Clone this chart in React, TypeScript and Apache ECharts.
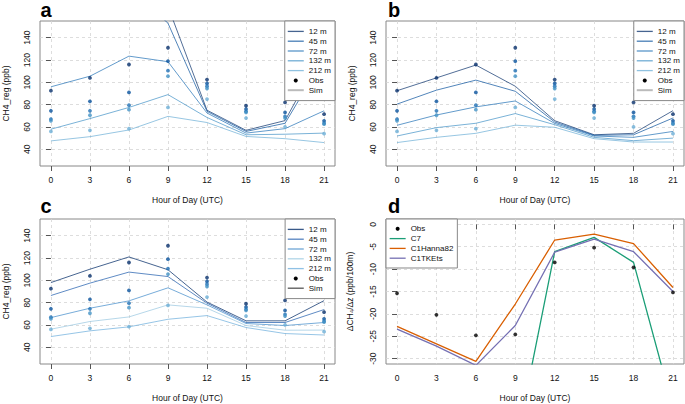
import React, { useEffect, useRef } from "react";
import * as echarts from "echarts";

// ---------- data ----------
const hours = [0, 3, 6, 9, 12, 15, 18, 21];
const heightLabels = ["12 m", "45 m", "72 m", "132 m", "212 m"];
const ch4Ticks = [40, 60, 80, 100, 120, 140];
const gradTicks = [-30, -25, -20, -15, -10, -5, 0];

// observations (same in panels a, b, c)
const obs12 = [92.5, 104, 116, 131, 102.5, 79, 82, 71.5];
const obs45 = [74.5, 83, 91, 119, 99, 76, 73, 65.5];
const obs72 = [67, 74.5, 79.5, 110.5, 96.5, 74, 69.5, 63.5];
const obs132 = [65.5, 70.5, 75.5, 105.5, 94.5, 73, 68, 62.5];
const obs212 = [56, 57, 58.5, 77.5, 85, 68, 60, 54];

// panel a simulations
const simA12 = [175, 185, 200, 168, 75, 57, 65.7, 130];
const simA45 = [165, 175, 185, 153, 74, 56, 63.3, 122];
const simA72 = [96, 105.5, 123.5, 118.5, 72.5, 54.5, 58.5, 74.5];
const simA132 = [58, 67.5, 77.5, 89, 68.5, 53, 53.5, 54.5];
const simA212 = [47.5, 51.3, 57.3, 69.5, 64, 51.5, 49.5, 46];

// panel b simulations
const simB12 = [92.5, 104, 115.5, 96.5, 65.6, 53, 54.3, 74.6];
const simB45 = [80.5, 93, 102, 92, 64.4, 52.5, 53, 68];
const simB72 = [61.5, 70.7, 78, 83.3, 63.2, 51.9, 50.7, 56];
const simB132 = [51.9, 59.4, 63.3, 72, 62, 50.7, 47.7, 50];
const simB212 = [46, 50.7, 54.3, 61.6, 59.7, 49.5, 46.5, 46.5];

// panel c simulations
const simC12 = [98, 110, 121, 109.5, 80.5, 63.7, 63.7, 81.8];
const simC45 = [86.4, 97.5, 107.4, 103.4, 79.5, 62.2, 62.2, 73.8];
const simC72 = [66.6, 75, 81.6, 93.3, 78, 61.3, 59.5, 62.2];
const simC132 = [56.2, 63.1, 67.2, 78, 75, 59.5, 55.3, 55.4];
const simC212 = [49.6, 54.7, 58.3, 65.1, 68.4, 57.7, 52.3, 51];

// panel d vertical gradients
const gradObs = [-15.4, -20.2, -24.8, -24.6, -8.5, -5.2, -9.6, -15.2];
const gradC7 = [-45, -48, -52, -50, -6.1, -2.9, -8.5, -41];
const gradHanna = [-22.8, -26.7, -30.6, -17.8, -3.5, -2.2, -4.3, -14.1];
const gradTKE = [-23.4, -27.2, -31.5, -22.6, -6.2, -3.3, -6.1, -15];

const obsAll = [obs12, obs45, obs72, obs132, obs212];
const simAAll = [simA12, simA45, simA72, simA132, simA212];
const simBAll = [simB12, simB45, simB72, simB132, simB212];
const simCAll = [simC12, simC45, simC72, simC132, simC212];

const obsColors = ["#08306b", "#08519c", "#2171b5", "#4292c6", "#6baed6"];
const lineColorsAB = ["#08306b", "#08519c", "#2171b5", "#4292c6", "#6baed6"];
const lineColorsC = ["#08306b", "#2a64b0", "#4a90cc", "#9ecae1", "#73b2de"];

const FONT = "Liberation Sans, Arial, sans-serif";

const grids = [
  { left: 37, top: 21, width: 298, height: 145 },
  { left: 386, top: 21, width: 298, height: 145 },
  { left: 37, top: 219, width: 298, height: 145 },
  { left: 386, top: 219, width: 298, height: 145 },
];

function pairs(vals: number[]) {
  return hours.map((h, k) => [h, vals[k]]);
}

function buildOption() {
  const series: any[] = [];
  const panels = [
    { sims: simAAll, colors: lineColorsAB, op: 0.7 },
    { sims: simBAll, colors: lineColorsAB, op: 0.7 },
    { sims: simCAll, colors: lineColorsC, op: 0.75 },
  ];
  panels.forEach((p, pi) => {
    p.sims.forEach((vals, i) => {
      series.push({
        type: "line",
        name: heightLabels[i],
        xAxisIndex: pi,
        yAxisIndex: pi,
        data: pairs(vals),
        symbol: "none",
        clip: true,
        z: 2,
        lineStyle: { color: p.colors[i], width: 1, opacity: p.op },
        itemStyle: { color: p.colors[i] },
      });
    });
    obsAll.forEach((vals, i) => {
      series.push({
        type: "scatter",
        name: "obs " + heightLabels[i] + " " + pi,
        xAxisIndex: pi,
        yAxisIndex: pi,
        data: pairs(vals),
        symbol: "circle",
        symbolSize: 3.8,
        z: 3,
        itemStyle: { color: obsColors[i] },
      });
    });
  });
  // legend-only entries
  series.push({
    type: "scatter",
    name: "Obs",
    xAxisIndex: 0,
    yAxisIndex: 0,
    data: [],
    itemStyle: { color: "#000" },
  });
  series.push({
    type: "line",
    name: "Sim",
    xAxisIndex: 0,
    yAxisIndex: 0,
    data: [],
    symbol: "none",
    lineStyle: { color: "#bbb", width: 2 },
    itemStyle: { color: "#bbb" },
  });
  // panel d
  series.push({
    type: "scatter",
    name: "Obs d",
    xAxisIndex: 3,
    yAxisIndex: 3,
    data: pairs(gradObs),
    symbolSize: 3.8,
    z: 3,
    itemStyle: { color: "#000" },
  });
  const dLines = [
    { name: "C7", vals: gradC7, color: "#1b9e77" },
    { name: "C1Hanna82", vals: gradHanna, color: "#d95f02" },
    { name: "C1TKEts", vals: gradTKE, color: "#7570b3" },
  ];
  dLines.forEach((l) => {
    series.push({
      type: "line",
      name: l.name,
      xAxisIndex: 3,
      yAxisIndex: 3,
      data: pairs(l.vals),
      symbol: "none",
      clip: true,
      z: 2,
      lineStyle: { color: l.color, width: 1.3 },
      itemStyle: { color: l.color },
    });
  });

  const xAxis = grids.map((_, i) => ({
    type: "value",
    gridIndex: i,
    min: -0.84,
    max: 21.84,
    axisLine: { show: false },
    axisTick: {
      show: true,
      customValues: hours,
      length: 5,
      lineStyle: { color: "#555", width: 1 },
    },
    axisLabel: {
      customValues: hours,
      fontSize: 8.5,
      color: "#111",
      fontFamily: FONT,
      margin: 9,
    },
    splitLine: {
      show: true,
      lineStyle: { color: "#d4d4d4", type: [3, 3], width: 0.8 },
    },
    name: "Hour of Day (UTC)",
    nameLocation: "middle",
    nameGap: 29,
    nameTextStyle: { fontSize: 8.5, color: "#111", fontFamily: FONT },
  }));

  const yAxis = grids.map((_, i) => {
    const isD = i === 3;
    return {
      type: "value",
      gridIndex: i,
      min: isD ? -31.2 : 25,
      max: isD ? 1.2 : 155,
      axisLine: { show: false },
      axisTick: {
        show: true,
        customValues: isD ? gradTicks : ch4Ticks,
        length: 5,
        lineStyle: { color: "#555", width: 1 },
      },
      axisLabel: {
        customValues: isD ? gradTicks : ch4Ticks,
        rotate: 90,
        fontSize: 8.5,
        color: "#111",
        fontFamily: FONT,
        margin: 9,
      },
      splitLine: {
        show: true,
        lineStyle: { color: "#d4d4d4", type: [3, 3], width: 0.8 },
      },
      name: isD ? "ΔCH₄/Δz (ppb/100m)" : "CH4_reg (ppb)",
      nameLocation: "middle",
      nameRotate: 90,
      nameGap: isD ? 32 : 30,
      nameTextStyle: { fontSize: 8.5, color: "#111", fontFamily: FONT },
    };
  });

  const heightLegendItems = (colors: string[], op: number) =>
    heightLabels.map((h, i) => ({
      name: h,
      lineStyle: { color: colors[i], width: 1.3, opacity: op },
    }));

  const legendBase = {
    orient: "vertical",
    padding: [5.5, 4, 5.5, 2],
    itemWidth: 16,
    itemHeight: 4,
    itemGap: 0,
    itemTextGap: 6,
    backgroundColor: "#fff",
    borderColor: "#888",
    borderWidth: 1,
    borderRadius: 0,
    selectedMode: false,
    itemStyle: { opacity: 0 },
    textStyle: { fontSize: 8, lineHeight: 9.8, color: "#111", fontFamily: FONT },
  };

  const obsItem = { name: "Obs", icon: "circle", itemStyle: { opacity: 1, color: "#000" } };

  const legend = [
    {
      ...legendBase,
      right: 685 - 335,
      top: 21,
      data: [
        ...heightLegendItems(lineColorsAB, 0.75),
        obsItem,
        { name: "Sim", lineStyle: { color: "#bbb", width: 2 } },
      ],
    },
    {
      ...legendBase,
      right: 1,
      top: 21,
      data: [
        ...heightLegendItems(lineColorsAB, 0.75),
        obsItem,
        { name: "Sim", lineStyle: { color: "#bbb", width: 2 } },
      ],
    },
    {
      ...legendBase,
      right: 685 - 335,
      top: 219,
      data: [
        ...heightLegendItems(lineColorsC, 0.8),
        obsItem,
        { name: "Sim", lineStyle: { color: "#555", width: 1.3 } },
      ],
    },
    {
      ...legendBase,
      left: 386,
      top: 219,
      padding: [4.9, 4, 4.9, 3],
      itemTextGap: 5,
      data: [
        obsItem,
        { name: "C7", lineStyle: { color: "#1b9e77", width: 1.3 } },
        { name: "C1Hanna82", lineStyle: { color: "#d95f02", width: 1.3 } },
        { name: "C1TKEts", lineStyle: { color: "#7570b3", width: 1.3 } },
      ],
    },
  ];

  const panelLetters = [
    { t: "a", x: 40.5, y: 0 },
    { t: "b", x: 388, y: 0 },
    { t: "c", x: 40.5, y: 195.5 },
    { t: "d", x: 388, y: 195.5 },
  ];

  return {
    animation: false,
    textStyle: { fontFamily: FONT },
    grid: grids.map((g) => ({
      ...g,
      show: true,
      borderColor: "#888",
      borderWidth: 1,
      backgroundColor: "transparent",
      containLabel: false,
    })),
    xAxis,
    yAxis,
    legend,
    series,
    graphic: panelLetters.map((p) => ({
      type: "text",
      x: p.x,
      y: p.y,
      z: 10,
      style: {
        text: p.t,
        fontSize: 20,
        fontWeight: "bold",
        fontFamily: FONT,
        fill: "#000",
        verticalAlign: "top",
        align: "left",
      },
    })),
  };
}

export default function App() {
  const ref = useRef<HTMLDivElement>(null);
  useEffect(() => {
    if (!ref.current) return;
    const chart = echarts.init(ref.current, undefined, { renderer: "svg" });
    chart.setOption(buildOption() as any);
    return () => chart.dispose();
  }, []);
  return (
    <div
      ref={ref}
      style={{
        position: "fixed",
        left: 0,
        top: 0,
        width: 685,
        height: 404,
        background: "#fff",
      }}
    />
  );
}
